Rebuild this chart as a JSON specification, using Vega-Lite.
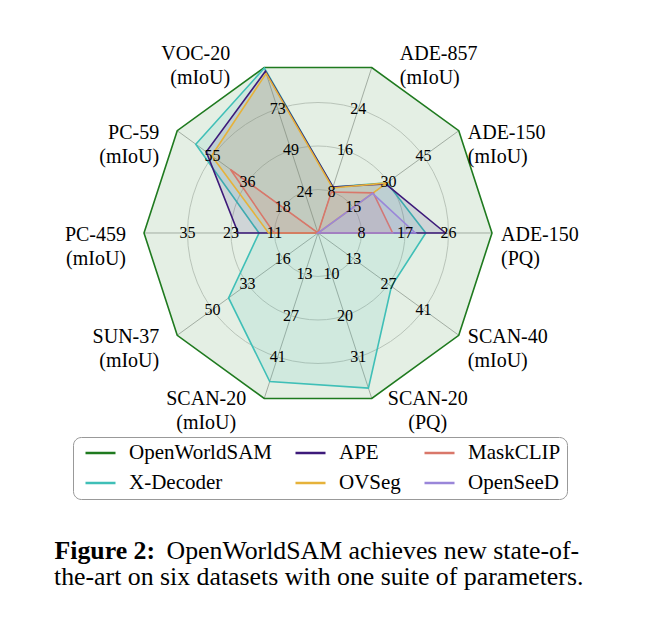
{
  "$schema": "https://vega.github.io/schema/vega-lite/v6.json",
  "width": 646,
  "height": 520,
  "padding": 0,
  "background": "white",
  "config": {
    "view": {"stroke": null},
    "font": "Liberation Serif",
    "axisX": {"domain": false, "ticks": false, "labels": false, "grid": false, "titleX": 54, "titleY": 30, "titleAlign": "left", "titleAnchor": "start", "titleBaseline": "middle", "titleFont": "Liberation Serif", "titleFontSize": 25.8, "titleFontWeight": "bold", "titleColor": "black"},
    "axisY": {"domain": false, "ticks": false, "labels": false, "grid": false, "titleX": 166, "titleY": 550, "titleAngle": 0, "titleAlign": "left", "titleAnchor": "start", "titleBaseline": "middle", "titleFont": "Liberation Serif", "titleFontSize": 25.8, "titleFontWeight": "normal", "titleColor": "black"}
  },
  "title": {
    "text": "the-art on six datasets with one suite of parameters.",
    "orient": "bottom",
    "anchor": "start",
    "frame": "group",
    "offset": 2,
    "dx": 54,
    "font": "Liberation Serif",
    "fontSize": 25.8,
    "fontWeight": "normal",
    "color": "black"
  },
  "datasets": {
    "scores": [
      {"model": "OpenWorldSAM", "axis": "ADE-150 (PQ)", "value": 35.2},
      {"model": "OpenWorldSAM", "axis": "ADE-150 (mIoU)", "value": 60.4},
      {"model": "OpenWorldSAM", "axis": "ADE-857 (mIoU)", "value": 33.1},
      {"model": "OpenWorldSAM", "axis": "VOC-20 (mIoU)", "value": 98.0},
      {"model": "OpenWorldSAM", "axis": "PC-59 (mIoU)", "value": 73.7},
      {"model": "OpenWorldSAM", "axis": "PC-459 (mIoU)", "value": 47.5},
      {"model": "OpenWorldSAM", "axis": "SUN-37 (mIoU)", "value": 67.7},
      {"model": "OpenWorldSAM", "axis": "SCAN-20 (mIoU)", "value": 55.5},
      {"model": "OpenWorldSAM", "axis": "SCAN-20 (PQ)", "value": 41.6},
      {"model": "OpenWorldSAM", "axis": "SCAN-40 (mIoU)", "value": 55.6},
      {"model": "X-Decoder", "axis": "ADE-150 (PQ)", "value": 21.8},
      {"model": "X-Decoder", "axis": "ADE-150 (mIoU)", "value": 29.6},
      {"model": "X-Decoder", "axis": "ADE-857 (mIoU)", "value": 9.2},
      {"model": "X-Decoder", "axis": "VOC-20 (mIoU)", "value": 97.7},
      {"model": "X-Decoder", "axis": "PC-59 (mIoU)", "value": 64.0},
      {"model": "X-Decoder", "axis": "PC-459 (mIoU)", "value": 16.1},
      {"model": "X-Decoder", "axis": "SUN-37 (mIoU)", "value": 43.0},
      {"model": "X-Decoder", "axis": "SCAN-20 (mIoU)", "value": 49.8},
      {"model": "X-Decoder", "axis": "SCAN-20 (PQ)", "value": 39.0},
      {"model": "X-Decoder", "axis": "SCAN-40 (mIoU)", "value": 29.0},
      {"model": "APE", "axis": "ADE-150 (PQ)", "value": 25.8},
      {"model": "APE", "axis": "ADE-150 (mIoU)", "value": 29.0},
      {"model": "APE", "axis": "ADE-857 (mIoU)", "value": 9.2},
      {"model": "APE", "axis": "VOC-20 (mIoU)", "value": 95.8},
      {"model": "APE", "axis": "PC-59 (mIoU)", "value": 58.5},
      {"model": "APE", "axis": "PC-459 (mIoU)", "value": 21.8},
      {"model": "APE", "axis": "SUN-37 (mIoU)", "value": 0},
      {"model": "APE", "axis": "SCAN-20 (mIoU)", "value": 0},
      {"model": "APE", "axis": "SCAN-20 (PQ)", "value": 0},
      {"model": "APE", "axis": "SCAN-40 (mIoU)", "value": 0},
      {"model": "OVSeg", "axis": "ADE-150 (PQ)", "value": 0},
      {"model": "OVSeg", "axis": "ADE-150 (mIoU)", "value": 29.6},
      {"model": "OVSeg", "axis": "ADE-857 (mIoU)", "value": 9.0},
      {"model": "OVSeg", "axis": "VOC-20 (mIoU)", "value": 94.5},
      {"model": "OVSeg", "axis": "PC-59 (mIoU)", "value": 55.7},
      {"model": "OVSeg", "axis": "PC-459 (mIoU)", "value": 13.5},
      {"model": "OVSeg", "axis": "SUN-37 (mIoU)", "value": 0},
      {"model": "OVSeg", "axis": "SCAN-20 (mIoU)", "value": 0},
      {"model": "OVSeg", "axis": "SCAN-20 (PQ)", "value": 0},
      {"model": "OVSeg", "axis": "SCAN-40 (mIoU)", "value": 0},
      {"model": "MaskCLIP", "axis": "ADE-150 (PQ)", "value": 15.1},
      {"model": "MaskCLIP", "axis": "ADE-150 (mIoU)", "value": 23.7},
      {"model": "MaskCLIP", "axis": "ADE-857 (mIoU)", "value": 8.2},
      {"model": "MaskCLIP", "axis": "VOC-20 (mIoU)", "value": 0},
      {"model": "MaskCLIP", "axis": "PC-59 (mIoU)", "value": 45.9},
      {"model": "MaskCLIP", "axis": "PC-459 (mIoU)", "value": 12.0},
      {"model": "MaskCLIP", "axis": "SUN-37 (mIoU)", "value": 0},
      {"model": "MaskCLIP", "axis": "SCAN-20 (mIoU)", "value": 0},
      {"model": "MaskCLIP", "axis": "SCAN-20 (PQ)", "value": 0},
      {"model": "MaskCLIP", "axis": "SCAN-40 (mIoU)", "value": 0},
      {"model": "OpenSeeD", "axis": "ADE-150 (PQ)", "value": 19.7},
      {"model": "OpenSeeD", "axis": "ADE-150 (mIoU)", "value": 23.4},
      {"model": "OpenSeeD", "axis": "ADE-857 (mIoU)", "value": 0},
      {"model": "OpenSeeD", "axis": "VOC-20 (mIoU)", "value": 0},
      {"model": "OpenSeeD", "axis": "PC-59 (mIoU)", "value": 0},
      {"model": "OpenSeeD", "axis": "PC-459 (mIoU)", "value": 0},
      {"model": "OpenSeeD", "axis": "SUN-37 (mIoU)", "value": 0},
      {"model": "OpenSeeD", "axis": "SCAN-20 (mIoU)", "value": 0},
      {"model": "OpenSeeD", "axis": "SCAN-20 (PQ)", "value": 0},
      {"model": "OpenSeeD", "axis": "SCAN-40 (mIoU)", "value": 0}
    ]
  },
  "data": {"name": "scores"},
  "transform": [
    {"window": [{"op": "row_number", "as": "rn"}], "groupby": ["model"]},
    {"joinaggregate": [{"op": "max", "field": "value", "as": "vmax"}], "groupby": ["axis"]},
    {"calculate": "(datum.rn - 1) * PI / 5", "as": "ang"},
    {"calculate": "cos(datum.ang)", "as": "cx"},
    {"calculate": "sin(datum.ang)", "as": "cy"},
    {"calculate": "0", "as": "o"},
    {"calculate": "datum.value / datum.vmax", "as": "norm"},
    {"calculate": "datum.norm * datum.cx", "as": "px"},
    {"calculate": "datum.norm * datum.cy", "as": "py"}
  ],
  "layer": [
    {
      "transform": [{"filter": "datum.model === 'OpenWorldSAM'"}],
      "mark": {"type": "rule", "color": "#b5b5b5", "strokeWidth": 1},
      "encoding": {
        "x": {"field": "o", "type": "quantitative", "scale": {"domain": [-1.82759, 1.88506], "nice": false, "zero": false}, "axis": {"title": "Figure 2:"}},
        "y": {"field": "o", "type": "quantitative", "scale": {"domain": [-1.64943, 1.33908], "nice": false, "zero": false}, "axis": {"title": "OpenWorldSAM achieves new state-of-"}},
        "x2": {"field": "cx"},
        "y2": {"field": "cy"}
      }
    },
    {
      "transform": [
        {"filter": "datum.model === 'OpenWorldSAM' && datum.rn === 1"},
        {"calculate": "[0.25, 0.5, 0.75]", "as": "lv"},
        {"flatten": ["lv"]}
      ],
      "mark": {"type": "point", "shape": "circle", "filled": false, "stroke": "#cfcfcf", "strokeWidth": 1, "opacity": 1},
      "encoding": {
        "x": {"field": "o", "type": "quantitative", "scale": {"domain": [-1.82759, 1.88506], "nice": false, "zero": false}, "axis": {"title": "Figure 2:"}},
        "y": {"field": "o", "type": "quantitative", "scale": {"domain": [-1.64943, 1.33908], "nice": false, "zero": false}, "axis": {"title": "OpenWorldSAM achieves new state-of-"}},
        "size": {"field": "lv", "type": "quantitative", "scale": {"type": "pow", "exponent": 2, "domain": [0, 1], "range": [0, 121104]}, "legend": null}
      }
    },
    {
      "mark": {"type": "line", "interpolate": "linear-closed", "strokeWidth": 1.6, "fillOpacity": 0.12},
      "encoding": {
        "x": {"field": "px", "type": "quantitative", "scale": {"domain": [-1.82759, 1.88506], "nice": false, "zero": false}, "axis": {"title": "Figure 2:"}},
        "y": {"field": "py", "type": "quantitative", "scale": {"domain": [-1.64943, 1.33908], "nice": false, "zero": false}, "axis": {"title": "OpenWorldSAM achieves new state-of-"}},
        "order": {"field": "rn", "type": "quantitative"},
        "detail": {"field": "model", "type": "nominal"},
        "stroke": {
          "field": "model", "type": "nominal",
          "scale": {"domain": ["OpenWorldSAM", "APE", "MaskCLIP", "X-Decoder", "OVSeg", "OpenSeeD"], "range": ["#1f7a1f", "#3d1a7a", "#d9776a", "#3fbfb7", "#e6b23a", "#9a86d9"]},
          "legend": {
            "title": null, "orient": "none", "legendX": 73, "legendY": 437, "direction": "horizontal", "columns": 3,
            "symbolType": "stroke", "symbolSize": 900, "symbolStrokeWidth": 2.5, "symbolOffset": 5,
            "clipHeight": 20, "labelFont": "Liberation Serif", "labelFontSize": 21, "labelColor": "black",
            "labelOffset": 12, "labelLimit": 300, "columnPadding": 17, "rowPadding": 9, "padding": 6,
            "strokeColor": "#999999", "cornerRadius": 8, "fillColor": "white"
          }
        },
        "fill": {
          "field": "model", "type": "nominal",
          "scale": {"domain": ["OpenWorldSAM", "APE", "MaskCLIP", "X-Decoder", "OVSeg", "OpenSeeD"], "range": ["#1f7a1f", "#3d1a7a", "#d9776a", "#3fbfb7", "#e6b23a", "#9a86d9"]},
          "legend": {
            "title": null, "orient": "none", "legendX": 73, "legendY": 437, "direction": "horizontal", "columns": 3,
            "symbolType": "stroke", "symbolSize": 900, "symbolStrokeWidth": 2.5, "symbolOffset": 5,
            "clipHeight": 20, "labelFont": "Liberation Serif", "labelFontSize": 21, "labelColor": "black",
            "labelOffset": 12, "labelLimit": 300, "columnPadding": 17, "rowPadding": 9, "padding": 6,
            "strokeColor": "#999999", "cornerRadius": 8, "fillColor": "white"
          }
        }
      }
    },
    {
      "transform": [
        {"filter": "datum.model === 'OpenWorldSAM'"},
        {"calculate": "[0.25, 0.5, 0.75]", "as": "lv"},
        {"flatten": ["lv"]},
        {"calculate": "floor(datum.value * datum.lv)", "as": "tick"},
        {"calculate": "datum.lv * datum.cx", "as": "tx"},
        {"calculate": "datum.lv * datum.cy", "as": "ty"}
      ],
      "mark": {"type": "text", "font": "Liberation Serif", "fontSize": 16, "color": "black", "align": "center", "baseline": "middle"},
      "encoding": {
        "x": {"field": "tx", "type": "quantitative", "scale": {"domain": [-1.82759, 1.88506], "nice": false, "zero": false}, "axis": {"title": "Figure 2:"}},
        "y": {"field": "ty", "type": "quantitative", "scale": {"domain": [-1.64943, 1.33908], "nice": false, "zero": false}, "axis": {"title": "OpenWorldSAM achieves new state-of-"}},
        "text": {"field": "tick", "type": "quantitative", "format": "d"}
      }
    },
    {
      "transform": [{"filter": "datum.model === 'OpenWorldSAM' && (datum.rn === 1 || datum.rn === 2 || datum.rn === 10)"}],
      "mark": {"type": "text", "font": "Liberation Serif", "fontSize": 20, "lineHeight": 24, "lineBreak": " ", "color": "black", "align": "left", "baseline": "middle", "dx": 9, "dy": 2},
      "encoding": {
        "x": {"field": "cx", "type": "quantitative", "scale": {"domain": [-1.82759, 1.88506], "nice": false, "zero": false}, "axis": {"title": "Figure 2:"}},
        "y": {"field": "cy", "type": "quantitative", "scale": {"domain": [-1.64943, 1.33908], "nice": false, "zero": false}, "axis": {"title": "OpenWorldSAM achieves new state-of-"}},
        "text": {"field": "axis", "type": "nominal"}
      }
    },
    {
      "transform": [{"filter": "datum.model === 'OpenWorldSAM' && (datum.rn === 5 || datum.rn === 6 || datum.rn === 7)"}],
      "mark": {"type": "text", "font": "Liberation Serif", "fontSize": 20, "lineHeight": 24, "lineBreak": " ", "color": "black", "align": "right", "baseline": "middle", "dx": -18, "dy": 2},
      "encoding": {
        "x": {"field": "cx", "type": "quantitative", "scale": {"domain": [-1.82759, 1.88506], "nice": false, "zero": false}, "axis": {"title": "Figure 2:"}},
        "y": {"field": "cy", "type": "quantitative", "scale": {"domain": [-1.64943, 1.33908], "nice": false, "zero": false}, "axis": {"title": "OpenWorldSAM achieves new state-of-"}},
        "text": {"field": "axis", "type": "nominal"}
      }
    },
    {
      "transform": [{"filter": "datum.model === 'OpenWorldSAM' && datum.rn === 9"}],
      "mark": {"type": "text", "font": "Liberation Serif", "fontSize": 20, "lineHeight": 24, "lineBreak": " ", "color": "black", "align": "center", "baseline": "middle", "dx": 56, "dy": 1},
      "encoding": {
        "x": {"field": "cx", "type": "quantitative", "scale": {"domain": [-1.82759, 1.88506], "nice": false, "zero": false}, "axis": {"title": "Figure 2:"}},
        "y": {"field": "cy", "type": "quantitative", "scale": {"domain": [-1.64943, 1.33908], "nice": false, "zero": false}, "axis": {"title": "OpenWorldSAM achieves new state-of-"}},
        "text": {"field": "axis", "type": "nominal"}
      }
    },
    {
      "transform": [{"filter": "datum.model === 'OpenWorldSAM' && datum.rn === 8"}],
      "mark": {"type": "text", "font": "Liberation Serif", "fontSize": 20, "lineHeight": 24, "lineBreak": " ", "color": "black", "align": "center", "baseline": "middle", "dx": -58, "dy": 1},
      "encoding": {
        "x": {"field": "cx", "type": "quantitative", "scale": {"domain": [-1.82759, 1.88506], "nice": false, "zero": false}, "axis": {"title": "Figure 2:"}},
        "y": {"field": "cy", "type": "quantitative", "scale": {"domain": [-1.64943, 1.33908], "nice": false, "zero": false}, "axis": {"title": "OpenWorldSAM achieves new state-of-"}},
        "text": {"field": "axis", "type": "nominal"}
      }
    },
    {
      "transform": [{"filter": "datum.model === 'OpenWorldSAM' && datum.rn === 3"}],
      "mark": {"type": "text", "font": "Liberation Serif", "fontSize": 20, "lineHeight": 24, "lineBreak": " ", "color": "black", "align": "left", "baseline": "middle", "dx": 28, "dy": -14},
      "encoding": {
        "x": {"field": "cx", "type": "quantitative", "scale": {"domain": [-1.82759, 1.88506], "nice": false, "zero": false}, "axis": {"title": "Figure 2:"}},
        "y": {"field": "cy", "type": "quantitative", "scale": {"domain": [-1.64943, 1.33908], "nice": false, "zero": false}, "axis": {"title": "OpenWorldSAM achieves new state-of-"}},
        "text": {"field": "axis", "type": "nominal"}
      }
    },
    {
      "transform": [{"filter": "datum.model === 'OpenWorldSAM' && datum.rn === 4"}],
      "mark": {"type": "text", "font": "Liberation Serif", "fontSize": 20, "lineHeight": 24, "lineBreak": " ", "color": "black", "align": "right", "baseline": "middle", "dx": -34, "dy": -14},
      "encoding": {
        "x": {"field": "cx", "type": "quantitative", "scale": {"domain": [-1.82759, 1.88506], "nice": false, "zero": false}, "axis": {"title": "Figure 2:"}},
        "y": {"field": "cy", "type": "quantitative", "scale": {"domain": [-1.64943, 1.33908], "nice": false, "zero": false}, "axis": {"title": "OpenWorldSAM achieves new state-of-"}},
        "text": {"field": "axis", "type": "nominal"}
      }
    }
  ]
}
